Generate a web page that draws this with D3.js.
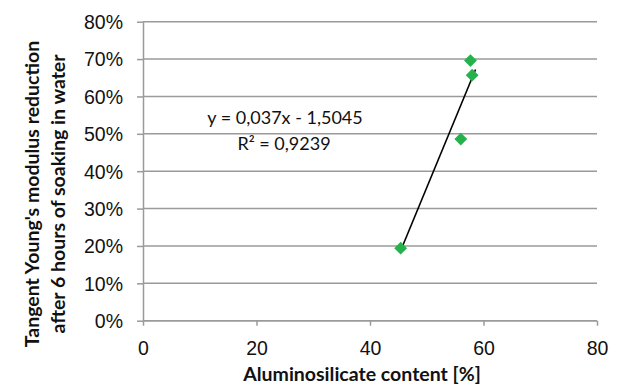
<!DOCTYPE html>
<html>
  <head>
    <meta charset="utf-8" />
    <script src="https://d3js.org/d3.v7.min.js"></script>
    <style>
      body { margin: 0; background: #ffffff; }
      svg { font-family: Lato, "Open Sans", sans-serif; }
      .grid line { stroke: #9a9a9a; stroke-width: 1.5; }
      .axis path, .axis line { stroke: #9a9a9a; stroke-width: 1.5; }
      .axis text { font-size: 19.5px; fill: #111111; }
      .title { font-size: 19.5px; font-weight: bold; fill: #111111; }
      .eq { font-size: 18px; fill: #111111; }
    </style>
  </head>
  <body>
    <div id="chart"></div>
    <script>
      var w = 619, h = 385;
      var margin = { top: 21.7, right: 22, bottom: 64.3, left: 143 };

      // measured points: aluminosilicate content [%] vs. modulus reduction
      var content = [45.4, 56.0, 57.7, 58.0];
      var reduction = [0.194, 0.486, 0.696, 0.657];
      // linear trendline ends (as drawn by the spreadsheet)
      var trendX = [45.4, 58.6];
      var trendY = [0.187, 0.672];
      var xTicks = [0, 20, 40, 60, 80];
      var yTicks = [0, 0.1, 0.2, 0.3, 0.4, 0.5, 0.6, 0.7, 0.8];
      var eqLines = ["y = 0,037x - 1,5045", "R² = 0,9239"];

      var svg = d3.select("#chart").append("svg")
        .attr("width", w).attr("height", h);

      var x = d3.scaleLinear().domain([0, 80]).range([margin.left, w - margin.right]);
      var y = d3.scaleLinear().domain([0, 0.8]).range([h - margin.bottom, margin.top]);

      // horizontal gridlines
      svg.append("g").attr("class", "grid")
        .selectAll("line").data(yTicks).enter().append("line")
        .attr("x1", x(0)).attr("x2", x(80))
        .attr("y1", d => y(d)).attr("y2", d => y(d));

      var yAxis = svg.append("g").attr("class", "axis")
        .attr("transform", "translate(" + x(0) + ",0)")
        .call(d3.axisLeft(y).tickValues(yTicks).tickFormat(d3.format(".0%"))
          .tickSizeInner(6).tickSizeOuter(0).tickPadding(14));
      yAxis.selectAll("text").attr("dy", "0.35em");

      var xAxis = svg.append("g").attr("class", "axis")
        .attr("transform", "translate(0," + y(0) + ")")
        .call(d3.axisBottom(x).tickValues(xTicks).tickSizeInner(5).tickSizeOuter(0).tickPadding(15));
      xAxis.selectAll("path").attr("d", "M" + x(0) + ",0H" + x(80));

      // trendline
      svg.append("line")
        .attr("x1", x(trendX[0])).attr("y1", y(trendY[0]))
        .attr("x2", x(trendX[1])).attr("y2", y(trendY[1]))
        .attr("stroke", "#000000").attr("stroke-width", 1.6);

      // diamonds
      var sym = d3.symbol().type(d3.symbolSquare).size(82);
      svg.selectAll("path.pt").data(content).enter().append("path")
        .attr("class", "pt")
        .attr("d", sym)
        .attr("fill", "#25b14c")
        .attr("transform", (d, i) => "translate(" + x(d) + "," + y(reduction[i]) + ") rotate(45)");

      // equation label
      svg.append("text").attr("class", "eq")
        .attr("x", 285).attr("y", 124).attr("text-anchor", "middle").text(eqLines[0]);
      svg.append("text").attr("class", "eq")
        .attr("x", 284).attr("y", 150).attr("text-anchor", "middle").text(eqLines[1]);

      // axis titles
      svg.append("text").attr("class", "title")
        .attr("x", 362).attr("y", 381).attr("text-anchor", "middle")
        .text("Aluminosilicate content [%]");

      var yt = svg.append("text").attr("class", "title")
        .attr("transform", "translate(39,194) rotate(-90)")
        .attr("text-anchor", "middle");
      yt.append("tspan").attr("x", 0).attr("y", 0).text("Tangent Young's modulus reduction");
      yt.append("tspan").attr("x", 0).attr("y", 26).text("after 6 hours of soaking in water");
    </script>
  </body>
</html>
